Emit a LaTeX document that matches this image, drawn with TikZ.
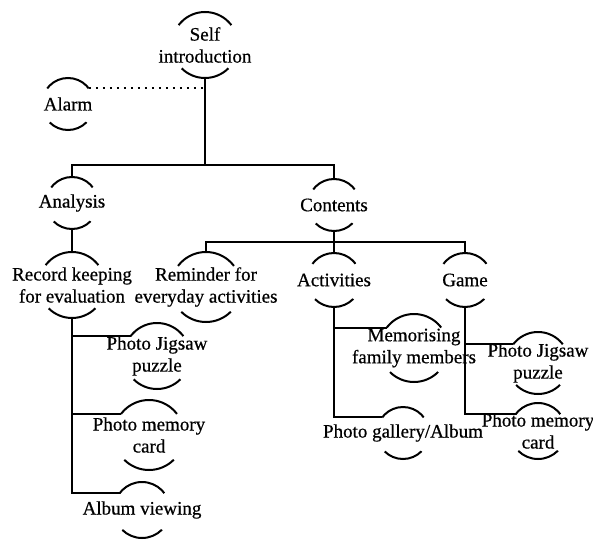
\documentclass[tikz,border=0pt]{standalone}
\usepackage{fontspec}
\setmainfont[FakeBold=0.6]{Liberation Serif}
\usetikzlibrary{positioning,calc}

\tikzset{
  % open circle: only a top and a bottom arc are drawn
  bubble/.style={circle, draw, inner sep=0pt, outer sep=0pt, minimum size=2*#1pt,
    dash pattern=on 1.85*#1pt off 1.4312*#1pt on 1.5708*#1pt off 1.4312*#1pt,
    dash phase=5.6374*#1pt},
  txt/.style={align=center, inner sep=0pt, font=\fontsize{19}{22}\selectfont},
  dotline/.style={dash pattern=on 2.2pt off 4.8pt},
}

\begin{document}
\begin{tikzpicture}[x=1pt, y=1pt, line width=2pt]
  \useasboundingbox (0,0) rectangle (593,539);

  % Top
  \node[bubble=33, label={[txt]center:Self\\introduction}] (self) at (205,494) {};
  \node[bubble=26, label={[txt]center:Alarm}] (alarm) at (68,435) {};

  % Second level
  \node[bubble=26, label={[txt]center:Analysis}] (analysis) at (72,336) {};
  \node[bubble=26, label={[txt]center:Contents}] (contents) at (334,334) {};

  % Analysis branch
  \node[bubble=33, label={[txt]center:Record keeping\\for evaluation}] (record) at (72,254) {};
  \node[bubble=33, label={[txt]center:Photo Jigsaw\\puzzle}] (ljigsaw) at (157,183) {};
  \node[bubble=35, label={[txt]center:Photo memory\\card}] (lmemory) at (149,104) {};
  \node[bubble=28, label={[txt]center:Album viewing}] (album) at (142,29) {};

  % Contents branch
  \node[bubble=35, label={[txt]center:Reminder for\\everyday activities}] (reminder) at (206,252) {};
  \node[bubble=27, label={[txt]center:Activities}] (activities) at (334,259) {};
  \node[bubble=27, label={[txt]center:Game}] (game) at (465,259) {};
  \node[bubble=34, label={[txt]center:Memorising\\family members}] (memorising) at (414,191) {};
  \node[bubble=26, label={[txt]center:Photo gallery/Album}] (gallery) at (403,106) {};
  \node[bubble=31, label={[txt]center:Photo Jigsaw\\puzzle}] (rjigsaw) at (538,176) {};
  \node[bubble=28, label={[txt]center:Photo memory\\card}] (rmemory) at (538,108) {};

  % Connectors
  \coordinate (hub) at (205,374);
  \coordinate (hub2) at (334,297);
  \draw (self.south) -- (hub);
  \draw (analysis.north) |- (hub) -| (contents.north);
  \draw[dotline] (alarm.37) -- (alarm.37 -| self.south);

  \draw (analysis.south) -- (record.north);
  \draw (record.south) |- (album.143);
  \draw (ljigsaw.143) -- (ljigsaw.143 -| record.south);
  \draw (lmemory.143) -- (lmemory.143 -| record.south);

  \draw (contents.south) -- (activities.north);
  \draw (reminder.north) |- (hub2) -| (game.north);
  \draw (activities.south) |- (gallery.143);
  \draw (memorising.143) -- (memorising.143 -| activities.south);
  \draw (game.south) |- (rmemory.143);
  \draw (rjigsaw.143) -- (rjigsaw.143 -| game.south);
\end{tikzpicture}
\end{document}
